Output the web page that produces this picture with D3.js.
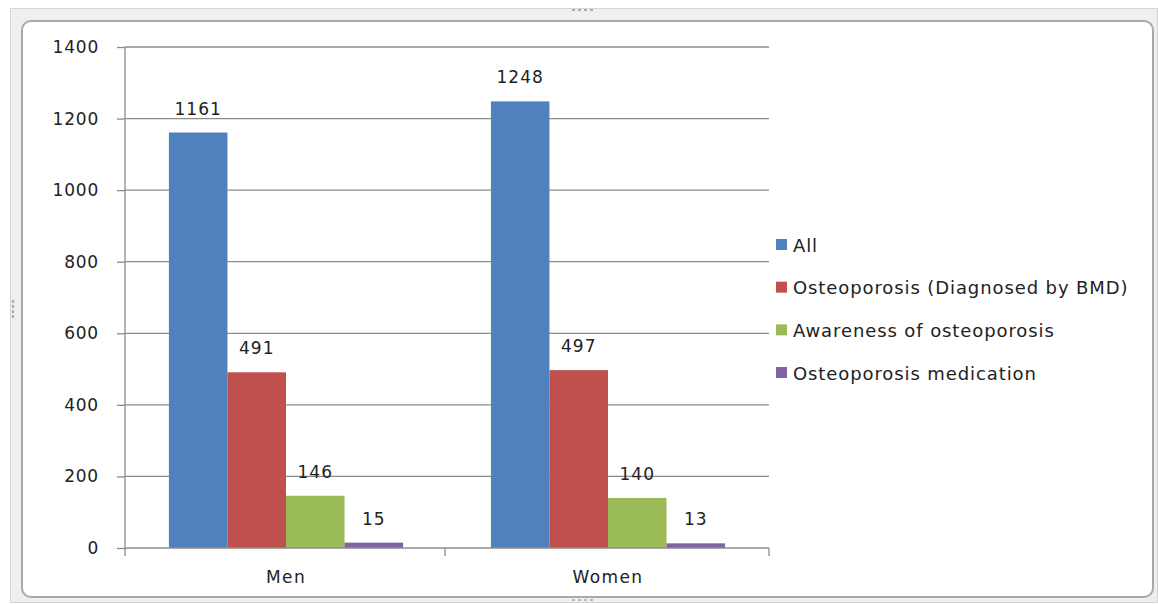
<!DOCTYPE html>
<html><head><meta charset="utf-8">
<script src="https://cdn.jsdelivr.net/npm/d3@7"></script>
<style>body{margin:0;background:#fff}svg{display:block}text{font-family:"DejaVu Sans",sans-serif;fill:#222}</style>
</head><body>
<svg id="c" width="1158" height="604"></svg>
<script>
const categories = ["Men", "Women"];
const seriesNames = ["All", "Osteoporosis (Diagnosed by BMD)", "Awareness of osteoporosis", "Osteoporosis medication"];
const seriesAll = [1161, 1248];
const seriesOsteo = [491, 497];
const seriesAware = [146, 140];
const seriesMed = [15, 13];
const yTicks = [0, 200, 400, 600, 800, 1000, 1200, 1400];
const colors = ["#4F81BD", "#C0504D", "#9BBB59", "#8064A2"];

const series = [seriesAll, seriesOsteo, seriesAware, seriesMed];
const svg = d3.select("#c");

// frame
svg.append("rect").attr("x",10.5).attr("y",8.5).attr("width",1147).attr("height",594).attr("fill","#efefef").attr("stroke","#d4d4d4");
svg.append("rect").attr("x",22).attr("y",21).attr("width",1131).attr("height",576).attr("rx",9).attr("fill","#fff").attr("stroke","#a8a8a8").attr("stroke-width",2);
// handles
[572,578,584,590].forEach(px=>svg.append("rect").attr("x",px).attr("y",9).attr("width",3).attr("height",2).attr("fill","#aaa"));
[572,578,584,590].forEach(px=>svg.append("rect").attr("x",px).attr("y",599).attr("width",3).attr("height",2).attr("fill","#bbb"));
[300,305,310,315].forEach(py=>svg.append("rect").attr("x",12).attr("y",py).attr("width",2).attr("height",3).attr("fill","#aaa"));

const x0 = d3.scaleBand().domain(categories).range([125, 769]);
const x1 = d3.scaleBand().domain(d3.range(series.length)).range([0, x0.bandwidth()]).paddingOuter(0.75).paddingInner(0);
const y = d3.scaleLinear().domain([0, 1400]).range([548, 47]);

// gridlines
svg.append("g").selectAll("line").data(yTicks.filter(t=>t>0)).join("line")
  .attr("x1",125).attr("x2",769).attr("y1",d=>y(d)).attr("y2",d=>y(d))
  .attr("stroke","#8c8c8c").attr("stroke-width",1.3);

// y axis
const ya = svg.append("g").attr("transform","translate(125,0)").call(d3.axisLeft(y).tickValues(yTicks).tickSize(8).tickPadding(18).tickFormat(d3.format("d")));
ya.select(".domain").attr("stroke","#8c8c8c").attr("stroke-width",1.3).attr("d","M0,47V548");
ya.selectAll(".tick line").attr("stroke","#8c8c8c").attr("stroke-width",1.3);
ya.selectAll("text").attr("font-size",17).attr("letter-spacing",0.8).attr("fill","#222").attr("font-family","DejaVu Sans");

// bars
categories.forEach((c,ci)=>{
  series.forEach((s,si)=>{
    const bx = x0(c)+x1(si);
    svg.append("rect").attr("x",bx).attr("y",y(s[ci])).attr("width",x1.bandwidth()).attr("height",y(0)-y(s[ci])).attr("fill",colors[si]);
    svg.append("text").attr("x",bx+x1.bandwidth()/2).attr("y",y(s[ci])-18).attr("text-anchor","middle")
      .attr("font-size",17).attr("letter-spacing",1).text(s[ci]);
  });
});

// x axis
const xa = svg.append("g").attr("transform","translate(0,548)").call(d3.axisBottom(x0).tickSize(0).tickPadding(23));
xa.select(".domain").attr("stroke","#8c8c8c").attr("stroke-width",1.3).attr("d","M125,0H769");
xa.selectAll("text").attr("font-size",17).attr("letter-spacing",1.4).attr("fill","#222").attr("font-family","DejaVu Sans");
[125,445,769].forEach(xx=>svg.append("line").attr("x1",xx).attr("x2",xx).attr("y1",548).attr("y2",556).attr("stroke","#8c8c8c").attr("stroke-width",1.3));

// legend
const lg = svg.append("g");
const ly = d3.scalePoint().domain(seriesNames).range([245, 373]);
seriesNames.forEach((n,i)=>{
  lg.append("rect").attr("x",776).attr("y",ly(n)-6).attr("width",11).attr("height",11).attr("fill",colors[i]);
  lg.append("text").attr("x",793).attr("y",ly(n)+6.5).attr("font-size",18).attr("letter-spacing",0.9).text(n);
});
</script>
</body></html>
